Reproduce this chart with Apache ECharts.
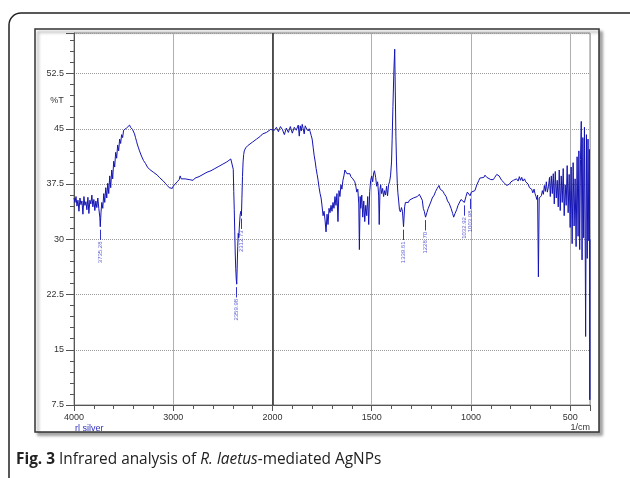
<!DOCTYPE html>
<html>
<head>
<meta charset="utf-8">
<script src="https://cdn.jsdelivr.net/npm/echarts@6/dist/echarts.min.js"></script>
<style>
html,body{margin:0;padding:0;background:#fff;}
#chart{width:630px;height:478px;}
</style>
</head>
<body>
<div id="chart"></div>
<script>
// ---- data ----
const wavenumber = [
4000,3990,3980,3970,3960,3950,3940,3930,3920,3910,3900,3890,3880,3870,3860,3850,3840,3830,3820,3810,
3800,3790,3780,3770,3760,3750,3740,3735.28,3728,3720,3710,3700,3690,3680,3670,3660,3650,3640,3630,3620,
3610,3600,3590,3580,3570,3560,3550,3540,3530,3520,3510,3500,3490,3480,3470,3460,3450,3440,3430,3420,
3410,3400,3390,3380,3370,3360,3350,3340,3320,3300,3280,3260,3240,3220,3200,3180,3160,3140,3120,3100,
3080,3060,3040,3020,3010,3000,2980,2960,2940,2930,2920,2910,2900,2880,2860,2840,2820,2800,2780,2760,
2740,2720,2700,2680,2660,2640,2620,2600,2580,2560,2540,2520,2500,2480,2460,2440,2420,2410,2400,2395,
2390,2385,2380,2375,2370,2365,2359.98,2355,2350,2345,2340,2335,2330,2325,2318,2312.73,2308,2302,2296,2290,
2284,2270,2250,2234,2200,2180,2160,2140,2120,2100,2080,2060,2040,2020,2000,
1990,1980,1970,1960,1950,1940,1930,1920,1910,1900,1890,1880,1870,1865,1860,1855,1850,1845,1840,1835,
1830,1825,1820,1815,1810,1805,1800,1795,1790,1785,1780,1775,1770,1765,1760,1755,1750,1745,1740,1735,
1730,1725,1720,1715,1710,1705,1700,1695,1690,1685,1680,1675,1670,1665,1660,1655,1650,1645,1640,1635,
1630,1625,1620,1615,1610,1605,1600,1595,1590,1585,1580,1575,1570,1565,1562,1558,1555,1550,1545,1540,
1535,1530,1525,1520,1515,1510,1505,1500,1495,1490,1486,1480,1475,1470,1465,1462,1458,1455,1450,1445,
1440,1435,1430,1425,1420,1415,1410,1405,1400,1397,1393,1388,1384,1381,1378,1375,1371,1368,1364,1360,
1355,1350,1345,1339.61,1334,1330,1325,1320,1315,1310,1300,1290,1280,1270,1260,1250,1245,1240,1235,1228.70,
1222,1215,1210,1200,1195,1185,1178,1170,1161,1155,1148,1140,1135,1125,1118,1110,1100,1092,1087,1080,
1072,1065,1060,1050,1045,1040,1032.92,1025,1018,1013,1008,1003.98,998,990,980,970,960,955,945,935,
929,920,910,900,890,887,880,870,865,858,850,845,837,830,820,811,805,798,790,786,
778,770,762,756,750,744,738,730,724,719,712,705,700,694,688,682,677,672,668,664,
660,656,650,645,640,635,630,625,620,615,609,604,600,595,590,585,580,575,570,565,
560,555,550,545,540,535,530,525,520,515,510,505,500,495,490,485,480,475,470,465,
460,456,452,448,444,440,436,432,428,424,422,418,414,410,406,403,401,400
];
const transmittance = [
35.6,35.0,35.8,34.5,35.3,33.8,35.6,34.7,35.2,33.4,35.8,34.6,35.1,34.0,35.7,33.5,35.3,34.8,36.0,34.4,
35.4,33.9,35.2,34.3,35.6,34.2,33.0,31.7,33.6,35.0,34.2,36.2,35.0,37.0,35.6,37.6,36.2,38.6,37.0,39.4,
38.2,40.6,39.8,41.8,41.0,42.8,42.0,43.6,43.0,44.2,43.8,44.8,44.6,45.0,45.1,45.3,45.2,45.5,45.2,45.3,
44.9,44.7,44.3,43.8,43.3,42.8,42.4,42.0,41.3,40.7,40.3,39.8,39.5,39.3,39.1,38.9,38.7,38.4,38.2,37.9,
37.6,37.3,37.0,36.8,36.9,37.2,37.5,37.8,38.1,38.6,38.2,38.0,38.4,38.2,38.0,38.1,38.2,38.0,38.3,38.4,
38.5,38.6,38.8,38.9,39.1,39.2,39.3,39.5,39.6,39.8,39.9,40.1,40.2,40.4,40.5,40.7,40.9,41.1,40.8,39.5,
36.5,34.0,31.0,28.0,26.0,24.6,23.9,26.5,29.0,30.8,30.2,31.4,32.5,33.4,33.8,33.2,35.5,38.5,40.5,41.5,
42.0,42.4,42.7,42.9,43.2,43.4,43.6,43.8,44.0,44.3,44.4,44.5,44.7,44.9,45.1,
44.8,45.2,44.6,45.3,44.9,44.2,45.1,44.5,45.3,44.4,45.2,44.8,45.5,44.0,45.4,44.7,45.6,45.0,44.3,45.4,
45.1,45.3,44.7,45.0,44.6,44.1,43.6,42.5,41.4,40.6,39.6,38.8,38.0,37.0,36.2,35.6,34.5,33.2,33.8,32.6,
31.0,33.4,32.0,34.2,33.6,34.6,33.8,35.0,34.2,35.8,34.6,36.2,32.4,36.6,35.8,37.4,36.8,38.0,38.6,39.4,
39.2,38.9,39.1,38.8,38.9,38.5,38.6,38.2,38.4,37.8,37.2,36.4,36.8,34.8,28.6,35.8,34.2,36.0,33.0,35.2,
32.4,34.6,33.2,35.8,32.0,36.5,38.0,38.6,37.8,39.0,39.3,38.4,37.2,37.8,36.0,32.0,36.8,37.4,36.2,36.9,
35.8,36.6,36.0,37.2,35.9,37.4,37.8,38.6,40.5,43.5,48.0,53.0,55.8,50.0,44.0,40.5,37.6,36.3,35.2,34.0,
33.7,34.3,33.8,31.7,34.4,35.0,34.8,35.2,35.0,35.3,35.4,35.6,35.4,35.8,36.1,36.0,35.3,34.2,33.8,33.0,
33.6,34.2,34.0,35.2,35.6,36.0,36.5,36.9,37.3,36.8,37.0,36.5,36.2,35.8,35.2,34.9,34.2,33.5,33.0,33.5,
34.0,34.6,34.4,35.4,35.2,35.6,35.0,35.8,36.4,36.2,36.4,35.9,36.4,36.6,36.6,37.4,38.0,38.3,38.5,38.4,
38.7,38.4,38.2,38.1,38.0,38.1,38.4,38.8,39.0,38.6,38.4,38.0,37.9,37.6,37.3,37.2,37.5,37.8,37.6,38.0,
37.8,38.2,37.9,38.5,38.0,38.4,37.9,38.2,37.8,38.0,37.5,37.0,37.2,36.8,36.3,36.8,36.2,35.8,35.4,36.0,
24.9,35.6,35.4,35.9,36.6,36.1,37.3,36.5,37.8,36.4,37.2,38.4,35.8,38.6,36.2,38.9,34.8,39.2,35.6,38.0,
34.4,39.4,33.9,38.6,35.0,39.6,33.2,37.4,34.6,40.0,33.6,38.8,31.6,39.8,29.4,40.4,31.8,38.2,29.0,41.2,
30.4,42.0,28.6,40.8,46.0,27.2,43.8,30.2,45.2,28.4,16.8,44.2,27.4,43.6,29.8,42.2,8.2,30.0
];
const peakWavenumbers = [3735.28, 2359.98, 2312.73, 1339.61, 1228.70, 1032.92, 1003.98];
const xTickLabels = [4000, 3000, 2000, 1500, 1000, 500];
const yTickLabels = [7.5, 15, 22.5, 30, 37.5, 45, 52.5];

// ---- piecewise wavenumber scale (half scale above 2000 1/cm) ----
function toU(wn){ return wn >= 2000 ? 4000 - wn : 2000 + 2 * (2000 - wn); }
function fromU(u){ return u <= 2000 ? 4000 - u : 2000 - (u - 2000) / 2; }
function tAt(wn){ return transmittance[wavenumber.indexOf(wn)]; }

const spectrum = wavenumber.map((w, i) => [toU(w), transmittance[i]]);
const peakPts = peakWavenumbers.map(w => ({ value: [toU(w), tAt(w) - 2.0], name: w.toFixed(2) }));
const leaders = peakWavenumbers.map(w => [{ coord: [toU(w), tAt(w) - 0.4] }, { coord: [toU(w), tAt(w) - 1.8] }]);

const chart = echarts.init(document.getElementById('chart'), null, { renderer: 'canvas' });
const font = '"Liberation Sans", Arial, sans-serif';
chart.setOption({
  animation: false,
  backgroundColor: '#ffffff',
  graphic: [
    { type: 'rect', z: -10, shape: { x: 9, y: 13, width: 640, height: 478, r: 12 },
      style: { fill: '#fff', stroke: '#222', lineWidth: 1.5 } },
    { type: 'rect', z: -9, shape: { x: 35, y: 29, width: 564, height: 403 },
      style: { fill: '#fff', stroke: '#333', lineWidth: 1.5, shadowColor: 'rgba(0,0,0,0.35)', shadowBlur: 3, shadowOffsetX: 3, shadowOffsetY: 3 } },
    { type: 'text', z: 5, x: 57, y: 101, style: { text: '%T', font: '9px ' + font, fill: '#333', align: 'center', verticalAlign: 'middle' } },
    { type: 'text', z: 5, x: 75, y: 429, style: { text: 'rl silver', font: '9px ' + font, fill: '#3030c0', align: 'left', verticalAlign: 'middle' } },
    { type: 'text', z: 5, x: 590, y: 428, style: { text: '1/cm', font: '9px ' + font, fill: '#333', align: 'right', verticalAlign: 'middle' } },
    { type: 'text', z: 5, x: 16, y: 460, style: {
        rich: {
          b: { font: 'bold 15.4px "Open Sans", sans-serif', fill: '#222' },
          n: { font: '15.4px "Open Sans", sans-serif', fill: '#222' },
          i: { font: 'italic 15.4px "Open Sans", sans-serif', fill: '#222' }
        },
        text: '{b|Fig. 3}{n| Infrared analysis of }{i|R. laetus}{n|-mediated AgNPs}',
        verticalAlign: 'middle' } }
  ],
  grid: { left: 74, top: 33, width: 516, height: 372, show: true, borderColor: '#888', borderWidth: 1, backgroundColor: 'transparent' },
  xAxis: {
    type: 'value', min: 0, max: toU(400), interval: 1000,
    axisLine: { show: true, lineStyle: { color: '#555', width: 1 } },
    axisTick: { show: true, length: 6, lineStyle: { color: '#555' } },
    minorTick: { show: true, splitNumber: 5, length: 4, lineStyle: { color: '#555' } },
    axisLabel: { color: '#333', fontSize: 9, fontFamily: font, margin: 8, showMaxLabel: false,
      formatter: u => { const w = Math.round(fromU(u)); return xTickLabels.indexOf(w) >= 0 ? String(w) : ''; } },
    splitLine: { show: true, lineStyle: { color: '#b0b0b0', width: 1, type: 'solid' } }
  },
  yAxis: {
    type: 'value', min: 7.5, max: 58, interval: 7.5,
    axisLine: { show: true, lineStyle: { color: '#555', width: 1 } },
    axisTick: { show: true, length: 8, lineStyle: { color: '#555' } },
    minorTick: { show: true, splitNumber: 5, length: 4, lineStyle: { color: '#555' } },
    axisLabel: { color: '#333', fontSize: 9, fontFamily: font, margin: 10, showMaxLabel: false,
      formatter: v => yTickLabels.indexOf(v) >= 0 ? String(v) : '' },
    splitLine: { show: true, lineStyle: { color: '#999', width: 1, type: 'dotted' } }
  },
  series: [
    {
      type: 'line', data: spectrum, showSymbol: false, symbol: 'none', z: 3,
      lineStyle: { color: '#1414b4', width: 1 },
      markLine: { silent: true, symbol: 'none', label: { show: false }, z: 2,
        lineStyle: { color: '#333', width: 1.6, type: 'solid' },
        data: [{ xAxis: toU(2000) }] }
    },
    {
      type: 'scatter', data: peakPts, symbolSize: 0, z: 4,
      label: { show: true, position: 'inside', formatter: p => p.name, rotate: 90, align: 'right', verticalAlign: 'middle',
        fontSize: 6, fontFamily: font, color: '#3434c8' },
      markLine: { silent: true, symbol: 'none', label: { show: false },
        lineStyle: { color: '#3434c8', width: 1, type: 'solid' }, data: leaders }
    }
  ]
});
</script>
</body>
</html>
